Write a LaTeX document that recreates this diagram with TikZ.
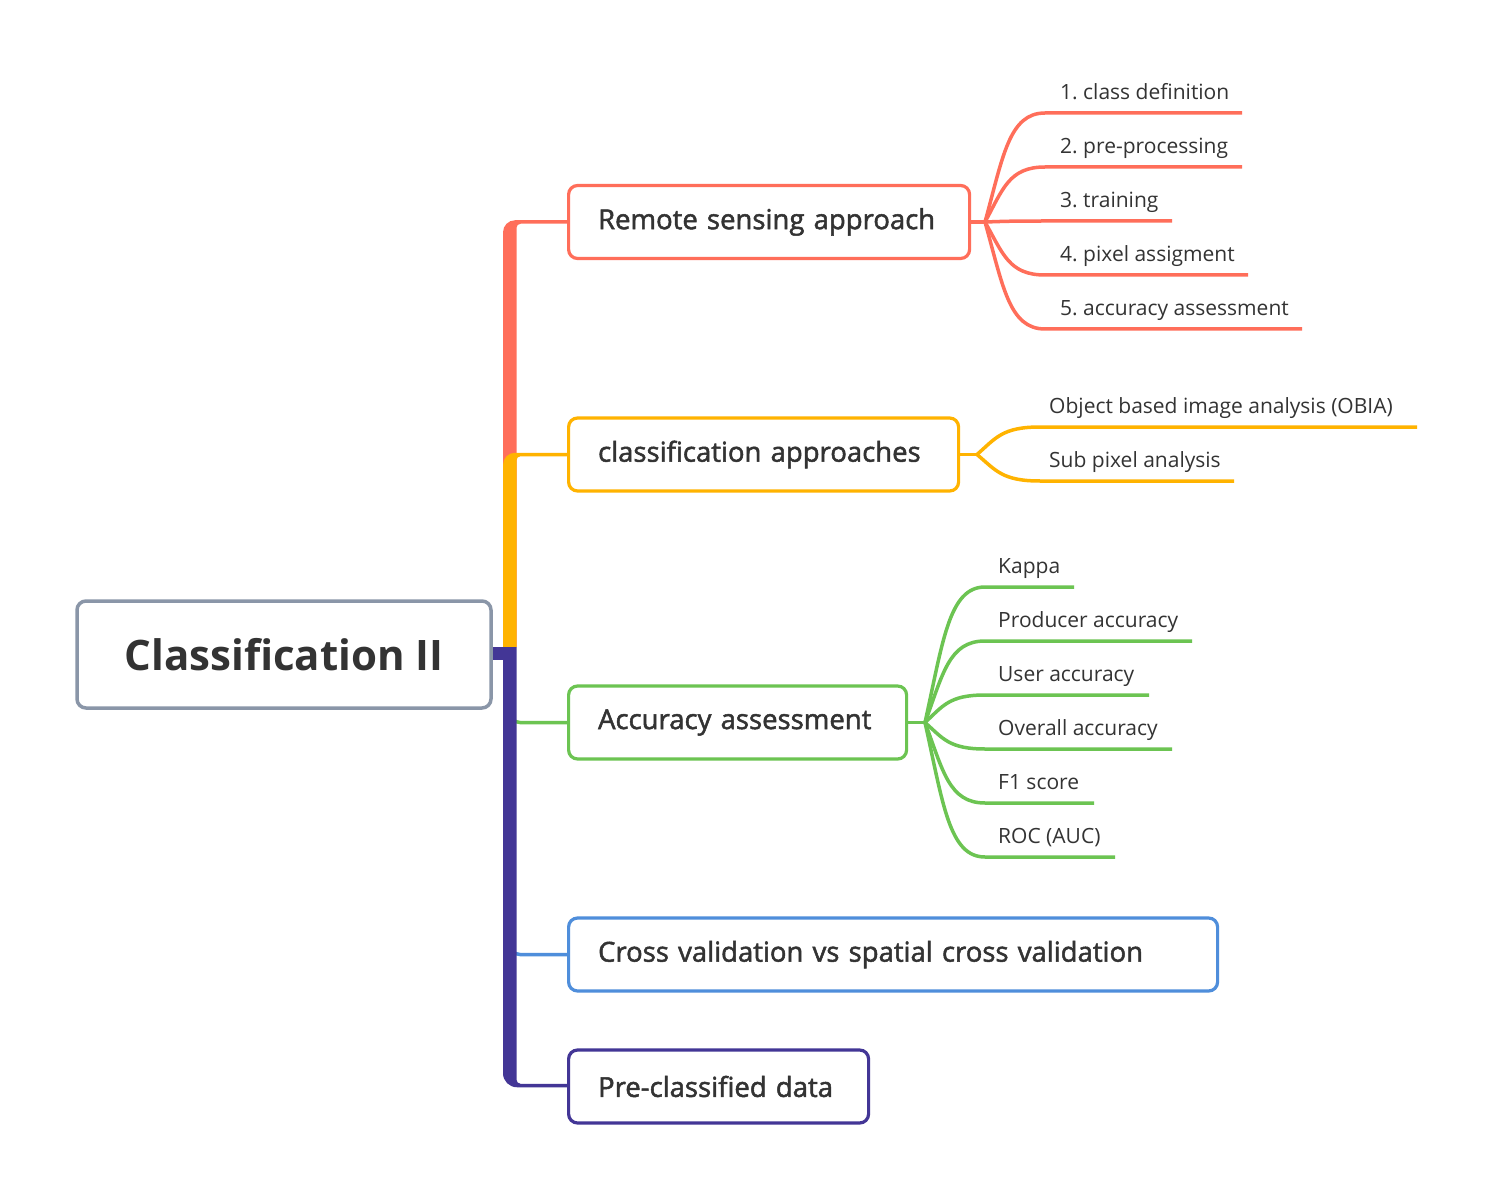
\documentclass[tikz,border=0pt]{standalone}
\usepackage{fontspec}
\setmainfont{Open Sans}
\newfontfamily\semib{Open Sans}[FakeBold=1.8]
\usetikzlibrary{calc}
\definecolor{cRed}{HTML}{FF6E5A}
\definecolor{cOrange}{HTML}{FFB300}
\definecolor{cGreen}{HTML}{6CC452}
\definecolor{cBlue}{HTML}{4F8EDB}
\definecolor{cPurple}{HTML}{433696}
\definecolor{cGray}{HTML}{8A96A8}
\definecolor{txt}{HTML}{333333}
\frenchspacing
\begin{document}
\begin{tikzpicture}[x=1pt,y=-1pt,
 box/.style={draw, fill=white, line width=3.2pt, rounded corners=9pt, minimum height=73pt, inner xsep=29.5pt, inner ysep=0pt, anchor=west, align=left, text=txt, font=\semib\fontsize{27.5}{32}\selectfont},
 leaf/.style={anchor=base west, inner sep=0pt, text=txt, font=\fontsize{21}{25}\selectfont},
 leafline/.style={line width=3.5pt},
 thin/.style={line width=3.5pt},
]
\useasboundingbox[fill=white] (0,0) rectangle (1492,1198);

% root
\node[draw=cGray, line width=3.5pt, rounded corners=9pt, minimum width=414pt, minimum height=107pt, fill=white, text=txt, font=\bfseries\fontsize{42}{50}\selectfont] (root) at (284,654.5) {Classification II};

% main topics
\node[box, draw=cRed, text width=342pt] (rs) at (567,222) {Remote sensing approach};
\node[box, draw=cOrange, text width=331pt] (ca) at (567,454.5) {classification approaches};
\node[box, draw=cGreen, text width=279pt] (aa) at (567,722.5) {Accuracy assessment};
\node[box, draw=cBlue, text width=590pt] (cv) at (567,954.5) {Cross validation vs spatial cross validation};
\node[box, draw=cPurple, text width=241pt] (pc) at (567,1086.5) {Pre-classified data};

% thin connectors hidden behind trunk
\draw[cGreen, thin, rounded corners=10pt] (510,660) |- (aa.west);
\draw[cBlue, thin, rounded corners=10pt] (510,660) |- (cv.west);

% trunk
\fill[cRed] (503,647) [rounded corners=12pt] -- (503,220.25) -- (545,220.25) [sharp corners] -- (rs.west |- 0,220.25) -- (rs.west |- 0,223.75) -- (530,223.75) [rounded corners=4pt] -- (516.5,223.75) -- (516.5,640) [sharp corners] -- (516.5,647) -- cycle;
\fill[cOrange] (503,647) [rounded corners=12pt] -- (503,452.75) -- (545,452.75) [sharp corners] -- (ca.west |- 0,452.75) -- (ca.west |- 0,456.25) -- (530,456.25) [rounded corners=4pt] -- (516.5,456.25) -- (516.5,640) [sharp corners] -- (516.5,647) -- cycle;
\fill[cPurple] (503,647) [rounded corners=14pt] -- (503,1087.25) -- (545,1087.25) [sharp corners] -- (pc.west |- 0,1087.25) -- (pc.west |- 0,1083.75) -- (530,1083.75) [rounded corners=4pt] -- (516.5,1083.75) -- (516.5,655) [sharp corners] -- (516.5,647) -- cycle;
\fill[cPurple] (root.east |- 0,647) rectangle (504,659.5);

% leaves of Remote sensing approach
\coordinate (rsJ) at (985,222);
\draw[cRed, thin] (rs.east) -- (rsJ);
\foreach \i/\y/\e/\t in {1/113/1242/{1. class definition}, 2/167/1242/{2. pre-processing}, 3/221/1172/{3. training}, 4/275/1248/{4. pixel assigment}, 5/329/1302/{5. accuracy assessment}}{
  \node[leaf] (rsL\i) at (1060,\y-13.5) {\t};
  \coordinate (rsS\i) at (1045,\y);
  \coordinate (rsE\i) at (\e,\y);
  \draw[cRed, leafline] let \p1=(rsJ), \p2=(rsS\i) in (rsJ) .. controls ({\x1+0.3*(\x2-\x1)},{\y1+0.6*(\y2-\y1)}) and ({\x1+0.4*(\x2-\x1)},{\y2}) .. (rsS\i) -- (rsE\i);
}

% leaves of classification approaches
\coordinate (caJ) at (977,454.5);
\draw[cOrange, thin] (ca.east) -- (caJ);
\foreach \i/\y/\e/\t in {1/427/1417/{Object based image analysis (OBIA)}, 2/481/1234/{Sub pixel analysis}}{
  \node[leaf] (caL\i) at (1049,\y-13.5) {\t};
  \coordinate (caS\i) at (1040,\y);
  \coordinate (caE\i) at (\e,\y);
  \draw[cOrange, leafline] let \p1=(caJ), \p2=(caS\i) in (caJ) .. controls ({\x1+0.3*(\x2-\x1)},{\y1+0.6*(\y2-\y1)}) and ({\x1+0.4*(\x2-\x1)},{\y2}) .. (caS\i) -- (caE\i);
}

% leaves of Accuracy assessment
\coordinate (aaJ) at (925,722.5);
\draw[cGreen, thin] (aa.east) -- (aaJ);
\foreach \i/\y/\e/\t in {1/587/1074/{Kappa}, 2/641/1192/{Producer accuracy}, 3/695/1149/{User accuracy}, 4/749/1172/{Overall accuracy}, 5/803/1094/{F1 score}, 6/857/1115/{ROC (AUC)}}{
  \node[leaf] (aaL\i) at (998,\y-13.5) {\t};
  \coordinate (aaS\i) at (985,\y);
  \coordinate (aaE\i) at (\e,\y);
  \draw[cGreen, leafline] let \p1=(aaJ), \p2=(aaS\i) in (aaJ) .. controls ({\x1+0.3*(\x2-\x1)},{\y1+0.6*(\y2-\y1)}) and ({\x1+0.4*(\x2-\x1)},{\y2}) .. (aaS\i) -- (aaE\i);
}
\end{tikzpicture}
\end{document}
